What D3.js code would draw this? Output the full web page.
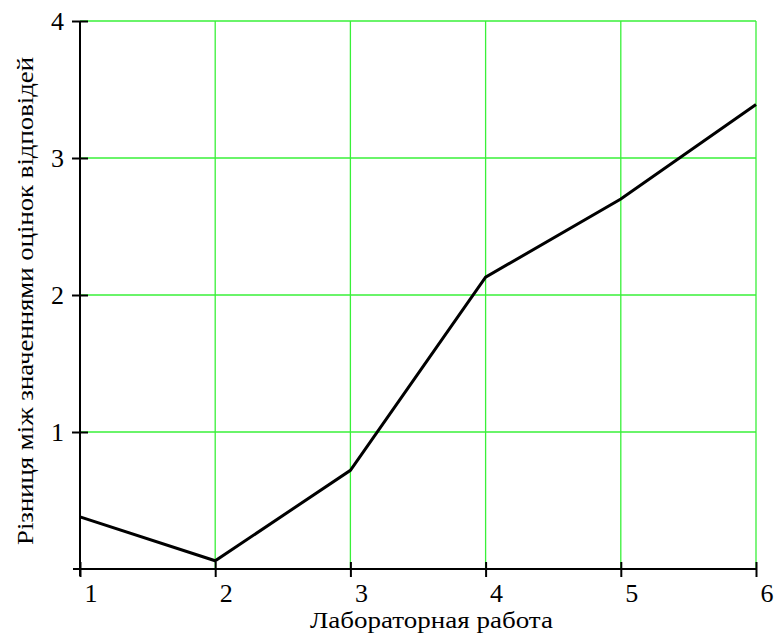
<!DOCTYPE html>
<html><head><meta charset="utf-8">
<script src="https://cdn.jsdelivr.net/npm/d3@7"></script>
<style>body{margin:0;background:#fff}svg{display:block}</style>
</head><body>
<script>
const labs = [1, 2, 3, 4, 5, 6];
const diffs = [0.38, 0.06, 0.72, 2.13, 2.70, 3.39];
const yTicks = [1, 2, 3, 4];
const xTitle = "Лабораторная работа";
const yTitle = "Різниця між значеннями оцінок відповідей";

const W = 776, H = 634;
const FONT = "Liberation Serif";
const m = {l: 80, r: 20, t: 21, b: 65};
const svg = d3.select("body").append("svg").attr("width", W).attr("height", H);
const x = d3.scaleLinear().domain([1, 6]).range([m.l, W - m.r]);
const y = d3.scaleLinear().domain([0, 4]).range([H - m.b, m.t]);
const green = "#38f038";

// grid
svg.append("g").selectAll("line").data(yTicks).join("line")
  .attr("x1", x(1)).attr("x2", x(6)).attr("y1", d => y(d)).attr("y2", d => y(d))
  .attr("stroke", green).attr("stroke-width", 1.3);
svg.append("g").selectAll("line").data(labs.slice(1)).join("line")
  .attr("x1", d => x(d)).attr("x2", d => x(d)).attr("y1", y(0)).attr("y2", y(4))
  .attr("stroke", green).attr("stroke-width", 1.3);

// axes
const xa = svg.append("g").attr("transform", `translate(0,${y(0)})`)
  .call(d3.axisBottom(x).tickValues(labs).tickFormat(d3.format("d")).tickSize(8).tickSizeOuter(0));
xa.attr("font-family", FONT);
xa.select(".domain").remove();
xa.selectAll(".tick line").attr("y1", -7).attr("y2", 8).attr("stroke", "#000").attr("stroke-width", 2);
xa.selectAll(".tick text").attr("font-family", FONT).attr("font-size", 26).attr("fill", "#000")
  .attr("text-anchor", "start").attr("dx", 4).attr("y", 33).attr("dy", null);
xa.append("line").attr("x1", x(1) - 7).attr("x2", x(6)).attr("stroke", "#000").attr("stroke-width", 2);

const ya = svg.append("g").attr("transform", `translate(${x(1)},0)`)
  .call(d3.axisLeft(y).tickValues(yTicks).tickFormat(d3.format("d")).tickSize(8).tickSizeOuter(0));
ya.attr("font-family", FONT);
ya.select(".domain").remove();
ya.selectAll(".tick line").attr("x1", -8).attr("x2", 8).attr("stroke", "#000").attr("stroke-width", 2);
ya.selectAll(".tick text").attr("font-family", FONT).attr("font-size", 26).attr("fill", "#000")
  .attr("x", -16).attr("dy", "0.34em");
ya.append("line").attr("y1", y(4)).attr("y2", y(0) + 7).attr("stroke", "#000").attr("stroke-width", 2);

// data line
svg.append("path").datum(labs.map((d, i) => [d, diffs[i]]))
  .attr("d", d3.line().x(d => x(d[0])).y(d => y(d[1])))
  .attr("fill", "none").attr("stroke", "#000").attr("stroke-width", 3).attr("stroke-linejoin", "miter");

// titles
svg.append("text").attr("x", 310).attr("y", 628).attr("text-anchor", "start")
  .attr("font-family", FONT).attr("font-size", 23).attr("fill", "#000")
  .attr("textLength", 243).attr("lengthAdjust", "spacingAndGlyphs").text(xTitle);
svg.append("text").attr("transform", `translate(33,545) rotate(-90)`).attr("text-anchor", "start")
  .attr("font-family", FONT).attr("font-size", 24).attr("fill", "#000")
  .attr("textLength", 488).attr("lengthAdjust", "spacingAndGlyphs").text(yTitle);
</script>
</body></html>
